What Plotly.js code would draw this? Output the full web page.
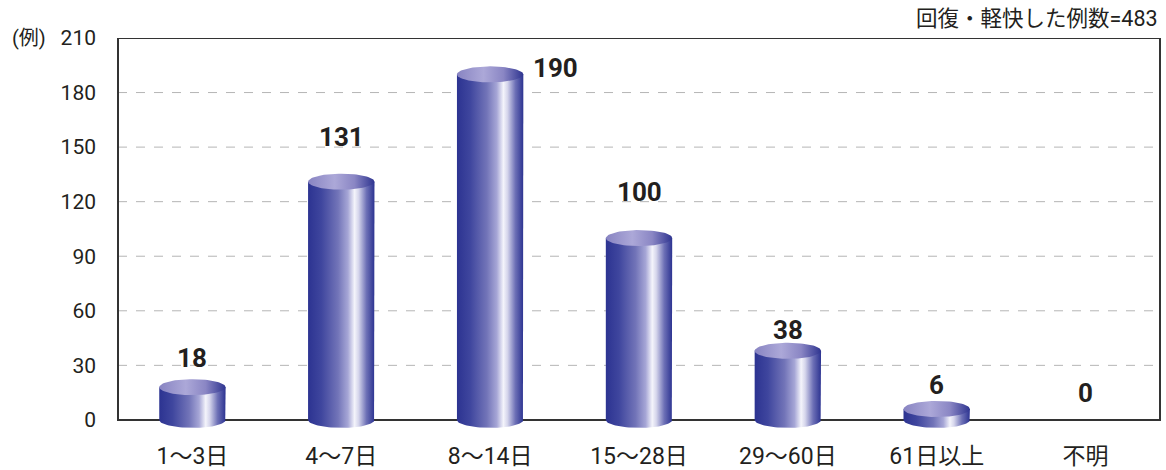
<!DOCTYPE html>
<html>
<head>
<meta charset="utf-8">
<script src="https://cdn.plot.ly/plotly-3.0.1.min.js"></script>
<style>html,body{margin:0;padding:0;background:#fff;}#chart{width:1166px;height:470px;}</style>
</head>
<body>
<div id="chart"></div>
<script>
// ---- data ----
const categories = ['1〜3日', '4〜7日', '8〜14日', '15〜28日', '29〜60日', '61日以上', '不明'];
const counts = [18, 131, 190, 100, 38, 6, 0];
const yTickValues = [0, 30, 60, 90, 120, 150, 180, 210];
const gridValues = [30, 60, 90, 120, 150, 180];
const unitLabel = '(例)';
const totalNote = '回復・軽快した例数=483';

// ---- styling ----
const FONT = 'Roboto, "Noto Sans CJK JP", sans-serif';
const halfW = 0.223;   // half cylinder width in category units
const ry = 4.4;        // ellipse half-height in value units
const labelYShift = [29, 45, 6, 46, 21, 24, 27];
const labelXShift = [0, 0, 65, 0, 0, 0, 0];

const bodyScale = [[0,'#2c3391'],[0.2,'#3f469e'],[0.45,'#7274b8'],[0.6,'#a6a6d6'],[0.7,'#f4f4fb'],[0.76,'#d6d6ec'],[0.88,'#6d70b6'],[1,'#2c3391']];
const topScale = [[0,'#8884c2'],[0.4,'#aca8d8'],[0.7,'#8a86c4'],[1,'#2e3490']];

const traces = [];
const N = 40;
counts.forEach((v, i) => {
  if (v <= 0) return;
  const cx = i;
  const bx = [], by = [];
  bx.push(cx - halfW); by.push(0);
  bx.push(cx - halfW); by.push(v);
  bx.push(cx + halfW); by.push(v);
  bx.push(cx + halfW); by.push(0);
  for (let k = 0; k <= N; k++) {
    const t = k / N * Math.PI;
    bx.push(cx + halfW * Math.cos(t));
    by.push(-ry * Math.sin(t));
  }
  traces.push({
    type: 'scatter', mode: 'lines', x: bx, y: by, fill: 'toself',
    line: {width: 0, color: 'rgba(0,0,0,0)'},
    fillgradient: {type: 'horizontal', colorscale: bodyScale, start: cx - halfW, stop: cx + halfW},
    hoverinfo: 'skip', showlegend: false
  });
  const tx = [], ty = [];
  for (let k = 0; k <= 2 * N; k++) {
    const t = k / (2 * N) * 2 * Math.PI;
    tx.push(cx + halfW * Math.cos(t));
    ty.push(v + ry * Math.sin(t));
  }
  traces.push({
    type: 'scatter', mode: 'lines', x: tx, y: ty, fill: 'toself',
    line: {width: 0, color: 'rgba(0,0,0,0)'},
    fillgradient: {type: 'horizontal', colorscale: topScale, start: cx - halfW, stop: cx + halfW},
    hoverinfo: 'skip', showlegend: false
  });
});

const annotations = counts.map((v, i) => ({
  x: i, y: v, xref: 'x', yref: 'y', text: String(v), showarrow: false,
  xanchor: 'center', yanchor: 'middle', yshift: labelYShift[i], xshift: labelXShift[i],
  font: {family: FONT, size: 26, color: '#231f20', weight: 700}
}));
annotations.push({
  x: 0, xref: 'paper', xshift: -108, xanchor: 'left', y: 210, yref: 'y', yanchor: 'middle',
  text: unitLabel, showarrow: false, font: {family: FONT, size: 20, color: '#231f20'}
});
annotations.push({
  x: 1, xref: 'paper', xshift: 0, xanchor: 'right', y: 1, yref: 'paper', yanchor: 'middle', yshift: 20,
  text: totalNote, showarrow: false, font: {family: FONT, size: 21.5, color: '#231f20'}
});

const shapes = gridValues.map(g => ({
  type: 'line', xref: 'paper', x0: 0, x1: 1, yref: 'y', y0: g, y1: g,
  line: {color: '#b5b5b5', width: 1, dash: 'dash'}, layer: 'below'
}));
shapes.push({
  type: 'rect', xref: 'paper', x0: 0, x1: 1, yref: 'y', y0: 0, y1: 210,
  line: {color: '#333333', width: 2}, fillcolor: 'rgba(0,0,0,0)', layer: 'below'
});

const layout = {
  width: 1166, height: 470,
  margin: {l: 118, r: 6, t: 38, b: 41},
  paper_bgcolor: '#fff', plot_bgcolor: '#fff',
  showlegend: false,
  xaxis: {
    range: [-0.5, 6.5], tickmode: 'array', tickvals: categories.map((c, i) => i), ticktext: categories,
    showgrid: false, zeroline: false, showline: false, ticks: '',
    ticklabelstandoff: 11,
    tickfont: {family: FONT, size: 23, color: '#231f20'}, fixedrange: true
  },
  yaxis: {
    range: [-5, 210], tickmode: 'array', tickvals: yTickValues,
    showgrid: false, zeroline: false, showline: false, ticks: '', ticklabelstandoff: 21,
    tickfont: {family: FONT, size: 21, color: '#231f20'}, fixedrange: true
  },
  shapes: shapes,
  annotations: annotations
};

Plotly.newPlot('chart', traces, layout, {displayModeBar: false, staticPlot: true});
</script>
</body>
</html>
